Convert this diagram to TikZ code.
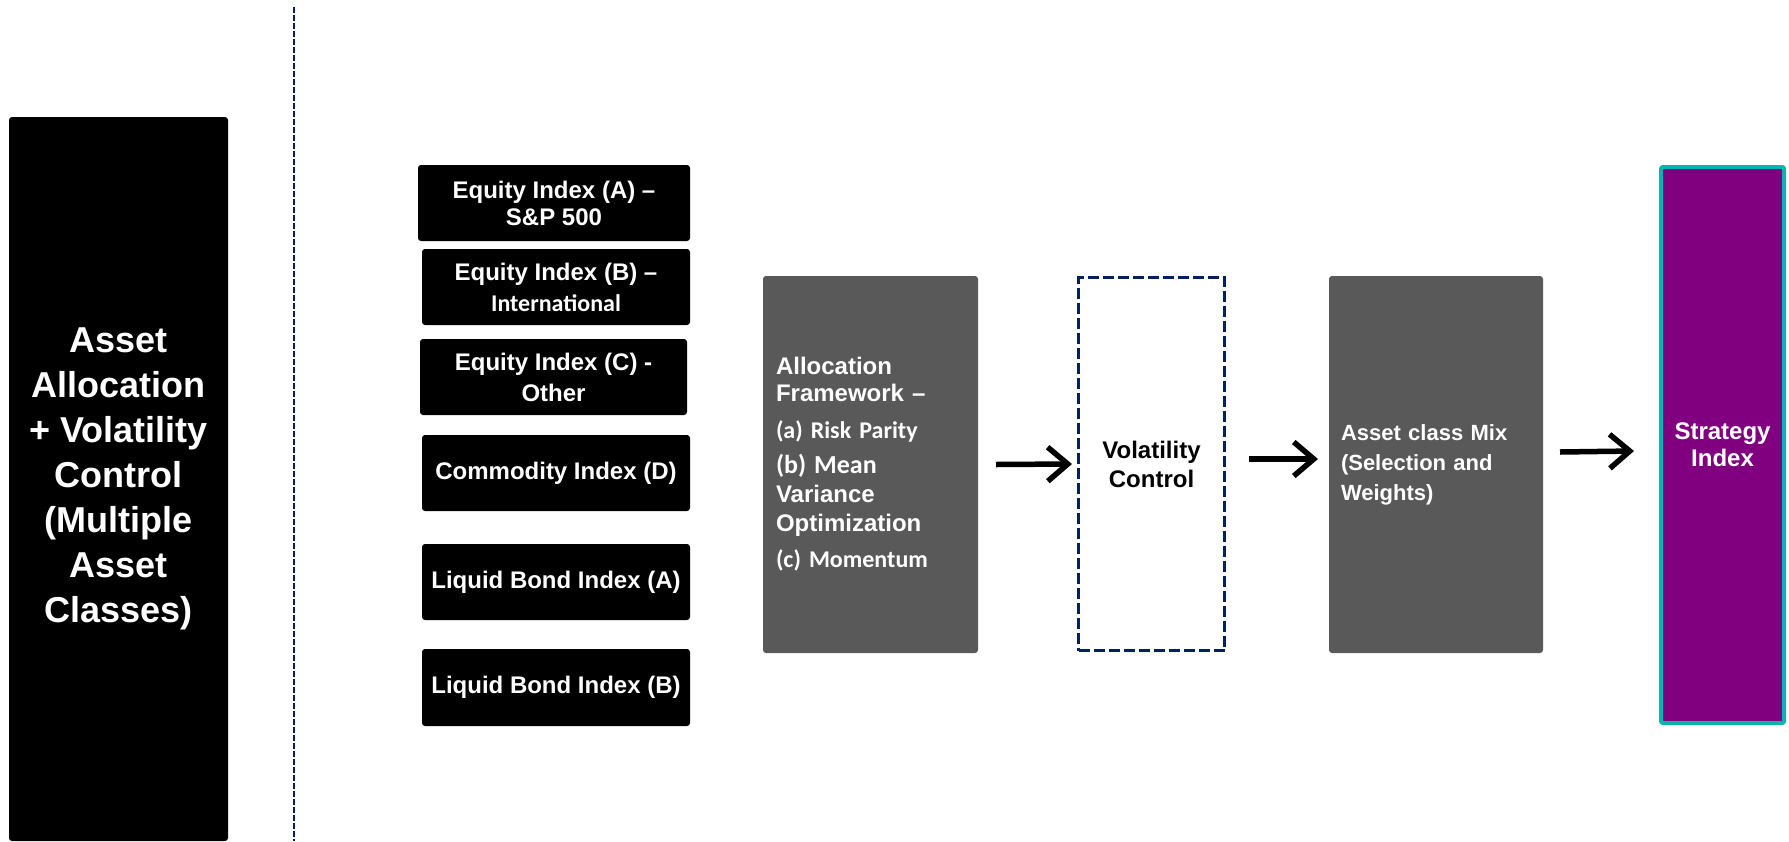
\documentclass[tikz,border=0pt]{standalone}
\usepackage{fontspec}
\setmainfont{Liberation Sans}
\newfontfamily\calib{Carlito}[BoldFont={Carlito Bold}]
\usetikzlibrary{arrows.meta}
\definecolor{boxgray}{RGB}{89,89,89}
\definecolor{navyc}{RGB}{0,32,96}
\definecolor{stratpurple}{RGB}{128,0,128}
\definecolor{stratteal}{RGB}{10,180,172}
\tikzset{
  base/.style={inner sep=0pt, outer sep=0pt, align=center},
  blk/.style={base, fill=black, rounded corners=3pt, text=white,
    font=\bfseries\fontsize{24}{27}\selectfont, anchor=north west},
  gbox/.style={base, fill=boxgray, rounded corners=3pt, text=white,
    font=\bfseries\fontsize{24}{29}\selectfont, anchor=north west},
  volbox/.style={base, draw=navyc, line width=3pt, dash pattern=on 11pt off 4pt,
    fill=white, text=black, font=\bfseries\fontsize{24}{29}\selectfont},
  stratbox/.style={base, draw=stratteal, fill=stratpurple, line width=4pt,
    rounded corners=2pt, text=white, font=\bfseries\fontsize{24}{27}\selectfont},
  sepline/.style={draw=navyc, line width=1.6pt, dash pattern=on 6pt off 2pt},
  arr/.style={draw=black, line width=5.5pt,
    -{Straight Barb[length=20pt, width=34pt]}},
}
\begin{document}
\begin{tikzpicture}[x=1pt,y=-1pt]
\useasboundingbox (0,0) rectangle (1789,841);

% left title box
\node[blk, minimum width=219pt, minimum height=724pt,
  font=\bfseries\fontsize{36}{45}\selectfont] (title) at (9,117)
  {Asset\\Allocation\\+ Volatility\\Control\\(Multiple\\Asset\\Classes)};

% separator
\coordinate (sepTop) at (294,7);
\coordinate (sepBot) at (294,841);
\draw[sepline] (sepTop) -- (sepBot);

% index boxes
\node[blk, minimum width=272pt, minimum height=76pt] (eqa) at (418,165)
  {Equity Index (A) \textendash\\S\&P 500};
\node[blk, minimum width=268pt, minimum height=76pt] (eqb) at (422,249)
  {Equity Index (B) \textendash\\[4pt]{\calib International}};
\node[blk, minimum width=267pt, minimum height=76pt] (eqc) at (420,339)
  {Equity Index (C) -\\[4pt]Other};
\node[blk, minimum width=268pt, minimum height=76pt] (comm) at (422,435)
  {Commodity Index (D)};
\node[blk, minimum width=268pt, minimum height=76pt] (lba) at (422,544)
  {Liquid Bond Index (A)};
\node[blk, minimum width=268pt, minimum height=77pt] (lbb) at (422,649)
  {Liquid Bond Index (B)};

% allocation framework
\node[gbox, minimum width=215pt, minimum height=377pt, text width=189pt,
  inner xsep=13pt, align=left] (alloc) at (763,276)
  {Allocation\\[-2pt]
   Framework \textendash\\[8pt]
   {\calib (a) Risk Parity}\\[6pt]
   {\calib\fontsize{26}{28}\selectfont (b) Mean}\\
   Variance\\
   Optimization\\[7pt]
   {\calib (c) Momentum}};

% volatility control
\node[volbox, minimum width=146pt, minimum height=373pt] (vol) at (1151.5,464)
  {Volatility\\Control};

% asset class mix
\node[gbox, minimum width=214pt, minimum height=377pt, text width=190pt,
  inner xsep=12pt, align=left, font=\bfseries\fontsize{22}{30}\selectfont] (mix) at (1329,276)
  {Asset class Mix\\(Selection and\\Weights)};

% strategy index
\node[stratbox, minimum width=123pt, minimum height=556pt] (strat) at (1722.5,445)
  {Strategy\\Index};

% arrows
\draw[arr] ([xshift=18pt]alloc.east) -- ([xshift=-6.5pt]vol.west);
\draw[arr] ([xshift=24.5pt,yshift=5pt]vol.east) -- ([xshift=-11pt,yshift=5.5pt]mix.west);
\draw[arr] ([xshift=17pt,yshift=12.5pt]mix.east) -- ([xshift=-27pt,yshift=-6pt]strat.west);
\end{tikzpicture}
\end{document}
